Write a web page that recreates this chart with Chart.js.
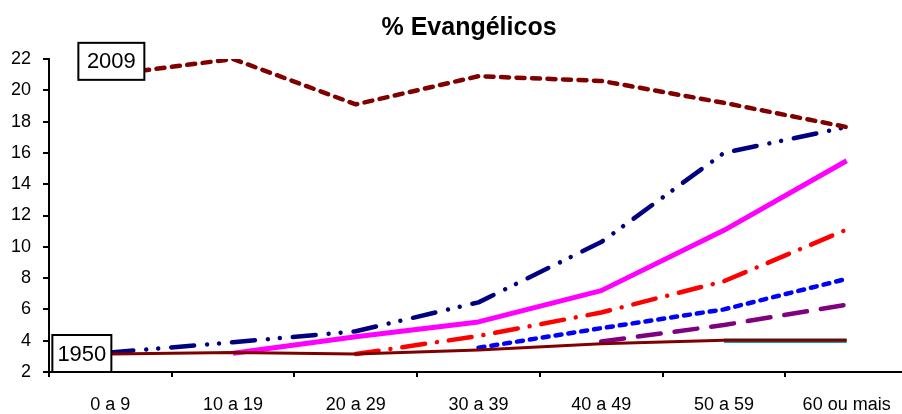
<!DOCTYPE html>
<html lang="pt">
<head>
<meta charset="utf-8">
<title>% Evangélicos</title>
<script src="https://cdn.jsdelivr.net/npm/chart.js@4/dist/chart.umd.min.js"></script>
<style>
  html, body { margin: 0; padding: 0; background: #fff; overflow: hidden; }
  #wrap { width: 910px; height: 414px; }
</style>
</head>
<body>
<div id="wrap"><canvas id="grafico" width="910" height="414"></canvas></div>
<script>
// Faixas etárias
const faixas = ['0 a 9', '10 a 19', '20 a 29', '30 a 39', '40 a 49', '50 a 59', '60 ou mais'];

// Percentual de evangélicos por faixa etária
const ano1950 = [3.15, 3.25, 3.15, 3.4, 3.8, 4.03, 4.03];
const ano2009 = [21.0, 22.0, 19.1, 20.9, 20.6, 19.2, 17.65];
const serieA  = [3.25, 3.9, 4.6, 6.45, 10.3, 16.0, 17.65];
const serieB  = [null, 3.2, 4.25, 5.2, 7.2, 11.05, 15.5];
const serieC  = [null, null, 3.15, 4.3, 5.8, 7.8, 11.1];
const serieD  = [null, null, null, 3.55, 4.8, 6.0, 7.95];
const serieE  = [null, null, null, null, 3.95, 5.0, 6.3];
const serieF  = [null, null, null, null, null, 4.0, 4.0];

// Escala do eixo vertical
const yMin = 2, yMax = 22, yPasso = 2;

const FONTE = '"Liberation Sans", Arial, Helvetica, sans-serif';
Chart.defaults.font.family = FONTE;
Chart.defaults.color = '#000';

function linha(label, data, color, width, dash) {
  return {
    label, data,
    borderColor: color,
    backgroundColor: color,
    borderWidth: width,
    borderDash: dash || [],
    borderCapStyle: dash ? 'round' : 'butt',
    borderJoinStyle: 'round',
    pointRadius: 0,
    pointHoverRadius: 0,
    tension: 0,
    fill: false,
    spanGaps: false
  };
}

// Título centralizado sobre a área do gráfico
const tituloPlugin = {
  id: 'tituloEv',
  afterDraw(chart, args, opts) {
    const { ctx, chartArea } = chart;
    ctx.save();
    ctx.font = 'bold 25px ' + FONTE;
    ctx.fillStyle = '#000';
    ctx.textAlign = 'center';
    ctx.textBaseline = 'alphabetic';
    ctx.fillText(opts.text, chartArea.left + chartArea.width * opts.frac, opts.baseline);
    ctx.restore();
  }
};

// Caixas com o ano de cada série extrema
const caixasPlugin = {
  id: 'caixasAno',
  afterDatasetsDraw(chart, args, opts) {
    const { ctx } = chart;
    const xs = chart.scales.x, ys = chart.scales.y;
    const x0 = xs.getPixelForValue(0);
    ctx.save();
    ctx.font = '22px ' + FONTE;
    ctx.textAlign = 'center';
    ctx.textBaseline = 'middle';
    opts.caixas.forEach(c => {
      const right = x0 + c.dx;
      const left = right - c.w;
      const cy = c.base === 'bottom' ? ys.bottom - c.h / 2 : ys.getPixelForValue(c.valor);
      const top = cy - c.h / 2;
      ctx.fillStyle = '#fff';
      ctx.fillRect(left, top, c.w, c.h);
      ctx.lineWidth = 2;
      ctx.strokeStyle = '#000';
      ctx.strokeRect(left, top, c.w, c.h);
      ctx.fillStyle = '#000';
      ctx.fillText(c.texto, (left + right) / 2, cy + 1);
    });
    ctx.restore();
  }
};

new Chart(document.getElementById('grafico'), {
  type: 'line',
  data: {
    labels: faixas,
    datasets: [
      linha('1950', ano1950, '#800000', 3),
      linha('2009', ano2009, '#800000', 4.5, [8, 7.5]),
      linha('Série A', serieA, '#000080', 4.5, [23, 13, 0.01, 12, 0.01, 13]),
      linha('Série B', serieB, '#FF00FF', 5),
      linha('Série C', serieC, '#FF0000', 4.5, [23, 12, 0.01, 12]),
      linha('Série D', serieD, '#0000FF', 4.5, [6, 7]),
      linha('Série E', serieE, '#800080', 4.5, [23, 14]),
      linha('Série F', serieF, '#1A9E9E', 4.5)
    ]
  },
  options: {
    responsive: false,
    animation: false,
    events: [],
    layout: { padding: { top: 59, right: 2, left: 0, bottom: 0 } },
    plugins: {
      legend: { display: false },
      title: { display: false },
      tooltip: { enabled: false },
      tituloEv: { text: '% Evangélicos', frac: 0.489, baseline: 35 },
      caixasAno: {
        caixas: [
          { texto: '2009', valor: 21.85, dx: 34, w: 66, h: 37 },
          { texto: '1950', base: 'bottom', dx: 1, w: 59, h: 37 }
        ]
      }
    },
    scales: {
      x: {
        type: 'category',
        offset: true,
        afterFit(scale) { scale.height = 42; },
        grid: {
          offset: true,
          drawOnChartArea: false,
          drawTicks: true,
          tickLength: 5,
          color: '#000',
          lineWidth: 2
        },
        border: { display: true, color: '#000', width: 2 },
        ticks: {
          color: '#000',
          font: { size: 18 },
          padding: 17,
          maxRotation: 0,
          autoSkip: false
        }
      },
      y: {
        min: yMin,
        max: yMax,
        afterFit(scale) { scale.width = 49; },
        grid: {
          drawOnChartArea: false,
          drawTicks: true,
          tickLength: 6,
          color: '#000',
          lineWidth: 2
        },
        border: { display: true, color: '#000', width: 2 },
        ticks: {
          stepSize: yPasso,
          color: '#000',
          font: { size: 18 },
          padding: 12
        }
      }
    }
  },
  plugins: [tituloPlugin, caixasPlugin]
});
</script>
</body>
</html>
